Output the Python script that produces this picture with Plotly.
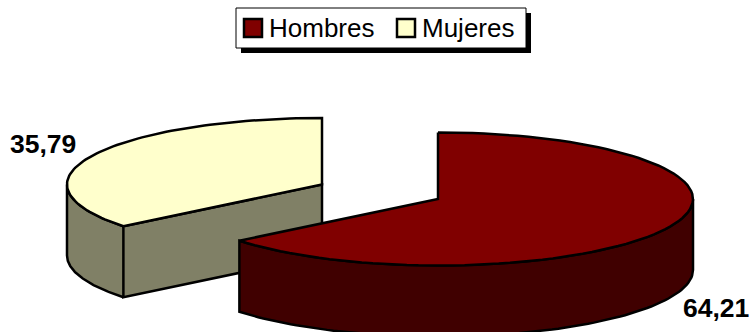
import numpy as np
import plotly.graph_objects as go

# Values from the chart
categories = ["Hombres", "Mujeres"]
values = [64.21, 35.79]
value_labels = ["64,21", "35,79"]
top_colors = ["#800000", "#FFFFCC"]
side_colors = ["#400000", "#808066"]

# Pie geometry in pixels
RX, RY, DEPTH = 255, 66.5, 71
centers = {"Hombres": (438, 199), "Mujeres": (322, 184.5)}


def rim(cx, cy, start, end, drop=0):
    # angles in degrees, clockwise from the top of the pie
    t = np.radians(np.linspace(start, end, 90))
    return cx + RX * np.sin(t), cy - RY * np.cos(t) + drop


fig = go.Figure()


def add_poly(xs, ys, color):
    fig.add_trace(go.Scatter(
        x=xs, y=ys, mode="lines", fill="toself", fillcolor=color,
        line=dict(color="black", width=2.5), hoverinfo="skip", showlegend=False,
    ))


split = 360 * values[0] / sum(values)

# Mujeres: back slice, goes from the split angle round to the top
cx, cy = centers["Mujeres"]
tip_x, tip_y = rim(cx, cy, split, split)
tip_x, tip_y = tip_x[0], tip_y[0]
ox, oy = rim(cx, cy, split, 270)
bx, by = rim(cx, cy, 270, split, DEPTH)
add_poly(np.r_[ox, bx], np.r_[oy, by], side_colors[1])
add_poly([tip_x, cx, cx, tip_x, tip_x], [tip_y, cy, cy + DEPTH, tip_y + DEPTH, tip_y], side_colors[1])
tx, ty = rim(cx, cy, split, 360)
add_poly(np.r_[tx, cx, tx[0]], np.r_[ty, cy, ty[0]], top_colors[1])

# Hombres: front slice, from the top clockwise to the split angle
cx, cy = centers["Hombres"]
ox, oy = rim(cx, cy, 90, split)
bx, by = rim(cx, cy, split, 90, DEPTH)
add_poly(np.r_[ox, bx, ox[0]], np.r_[oy, by, oy[0]], side_colors[0])
tx, ty = rim(cx, cy, 0, split)
add_poly(np.r_[tx, cx, tx[0]], np.r_[ty, cy, ty[0]], top_colors[0])

# Legend box with its hard shadow
shapes = [
    dict(type="rect", x0=241, y0=13, x1=531, y1=53, fillcolor="black", line_width=0),
    dict(type="rect", x0=236, y0=8, x1=526, y1=48, fillcolor="white", line=dict(color="black", width=1)),
]
annotations = []
swatch_x = [244, 397]
text_x = [267, 419.5]
for name, color, sx, lx in zip(categories, top_colors, swatch_x, text_x):
    shapes.append(dict(type="rect", x0=sx, y0=19, x1=sx + 18, y1=37, fillcolor=color,
                       line=dict(color="black", width=2.5)))
    annotations.append(dict(x=lx, y=28, text=name, showarrow=False, xanchor="left", yanchor="middle",
                            font=dict(family="Liberation Sans", size=26, color="black")))

# Data labels
label_pos = [(716, 308), (43, 144)]
for text, (lx, ly) in zip(value_labels, label_pos):
    annotations.append(dict(x=lx, y=ly, text=f"<b>{text}</b>", showarrow=False,
                            font=dict(family="Liberation Sans", size=26.5, color="black")))

fig.update_layout(
    width=750, height=332,
    margin=dict(l=0, r=0, t=0, b=0),
    paper_bgcolor="white", plot_bgcolor="white",
    xaxis=dict(range=[0, 750], visible=False, fixedrange=True),
    yaxis=dict(range=[332, 0], visible=False, fixedrange=True),
    shapes=shapes,
    annotations=annotations,
    showlegend=False,
)
# the page body has an 8px margin by default, drop it so the chart fills the window
fig.write_html("out.html", config={"displayModeBar": False},
               post_script="document.body.style.margin='0';document.documentElement.style.overflow='hidden';")
